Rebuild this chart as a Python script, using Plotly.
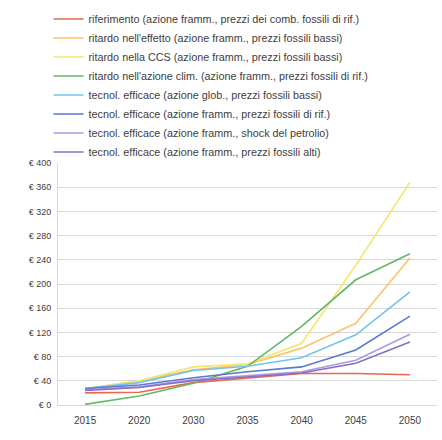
import plotly.graph_objects as go

years = ["2015", "2020", "2030", "2035", "2040", "2045", "2050"]

series_names = [
    "riferimento (azione framm., prezzi dei comb. fossili di rif.)",
    "ritardo nell'effetto (azione framm., prezzi fossili bassi)",
    "ritardo nella CCS (azione framm., prezzi fossili bassi)",
    "ritardo nell'azione clim. (azione framm., prezzi fossili di rif.)",
    "tecnol. efficace (azione glob., prezzi fossili bassi)",
    "tecnol. efficace (azione framm., prezzi fossili di rif.)",
    "tecnol. efficace (azione framm., shock del petrolio)",
    "tecnol. efficace (azione framm., prezzi fossili alti)",
]

riferimento = [20, 21, 37, 45, 52, 52, 50]
ritardo_effetto = [27, 40, 58, 67, 94, 135, 243]
ritardo_ccs = [27, 40, 63, 68, 102, 231, 368]
ritardo_azione = [1, 15, 36, 64, 130, 207, 250]
tec_glob_bassi = [27, 37, 57, 64, 78, 116, 187]
tec_framm_rif = [27, 33, 45, 55, 63, 91, 147]
tec_shock = [25, 30, 42, 48, 55, 74, 117]
tec_alti = [24, 29, 40, 46, 53, 69, 104]

all_values = [riferimento, ritardo_effetto, ritardo_ccs, ritardo_azione,
              tec_glob_bassi, tec_framm_rif, tec_shock, tec_alti]

colors = ["#e8684a", "#fdc26e", "#f0e870", "#62b866",
          "#72c4ef", "#5a7ad0", "#a99be0", "#8a6cc6"]

y_ticks = [0, 40, 80, 120, 160, 200, 240, 280, 320, 360, 400]

fig = go.Figure()
for name, vals, col in zip(series_names, all_values, colors):
    fig.add_trace(go.Scatter(x=years, y=vals, name=name, mode="lines",
                             line=dict(color=col, width=1.6)))

fig.update_layout(
    width=442, height=440,
    margin=dict(l=58, r=5, t=163, b=35),
    paper_bgcolor="white", plot_bgcolor="white",
    font=dict(family="Liberation Sans, Arial, sans-serif", color="#404040", size=9),
    showlegend=True,
    legend=dict(x=-0.025, y=1.655, xanchor="left", yanchor="top",
                font=dict(size=10.8, color="#404040"),
                itemwidth=30, tracegroupgap=0, bgcolor="rgba(0,0,0,0)"),
    xaxis=dict(type="category", range=[-0.5, 6.5], showgrid=False,
               showline=True, linecolor="#d9d9d9", ticks="",
               ticklabelstandoff=6,
               tickfont=dict(size=10, color="#404040")),
    yaxis=dict(range=[0, 400], tickvals=y_ticks,
               ticktext=["€ " + str(v) for v in y_ticks],
               showgrid=True, gridcolor="#d9d9d9", gridwidth=1,
               showline=True, linecolor="#d9d9d9", zeroline=False,
               ticklabelstandoff=4,
               tickfont=dict(size=9, color="#404040")),
)

fig.write_html("out.html")
